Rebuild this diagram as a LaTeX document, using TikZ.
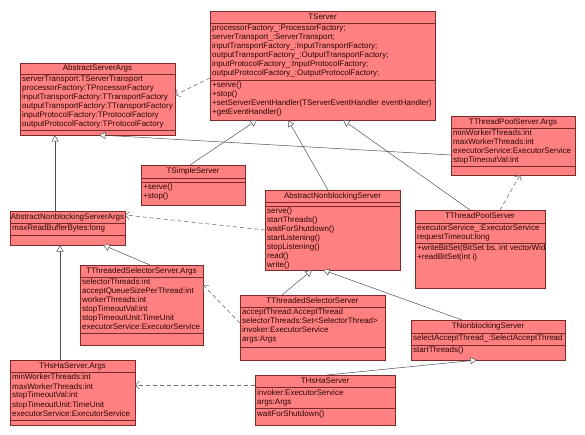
\documentclass[tikz,border=0pt]{standalone}
\usepackage{fontspec}
\setmainfont{Liberation Sans}
\usetikzlibrary{arrows.meta}
\definecolor{boxfill}{HTML}{FF8080}
\definecolor{boxdraw}{HTML}{7A2A2A}
\definecolor{boxtext}{HTML}{2A0505}
\definecolor{genline}{HTML}{505050}
\definecolor{depline}{HTML}{707070}
\tikzset{
  classbox/.style={draw=boxdraw, fill=boxfill, line width=0.7pt, inner sep=0pt, outer sep=0pt},
  divline/.style={draw=boxdraw, line width=0.7pt},
  titletext/.style={font=\fontsize{8}{9}\selectfont, text=boxtext, inner sep=0pt, text height=5.8pt, text depth=1.6pt},
  listtext/.style={font=\fontsize{8}{9}\selectfont, text=boxtext, inner sep=0pt, align=left, anchor=north west},
  genarrow/.style={draw=genline, line width=0.5pt, -{Triangle[open, length=6.5pt, width=7pt, fill=white]}},
  deparrow/.style={draw=depline, line width=0.6pt, dash pattern=on 4pt off 3pt, -{Straight Barb[length=4pt, width=8pt]}}
}
\newcommand{\umlbox}[8]{%
  \node[classbox, minimum width={#4-#2}, minimum height={#5-#3}, anchor=north west] (#1) at (#2,#3) {};
  \draw[divline] (#2,#6) -- (#4,#6);
  \draw[divline] (#2,#7) -- (#4,#7);
  \node[titletext] (#1-title) at ({(#2+#4)/2},{(#3+#6)/2}) {#8};
}
\begin{document}
\begin{tikzpicture}[x=1pt, y=-1pt]
\useasboundingbox (0,0) rectangle (585,435);
\fill[white] (0,0) rectangle (585,435);

% TServer
\umlbox{tserver}{210}{11}{435}{120}{23}{80}{TServer}
\node[listtext] (tserver-attrs) at (212,25) {processorFactory\_:ProcessorFactory;\\serverTransport\_:ServerTransport;\\inputTransportFactory\_:InputTransportFactory;\\outputTransportFactory\_:OutputTransportFactory;\\inputProtocolFactory\_:InputProtocolFactory;\\outputProtocolFactory\_:OutputProtocolFactory;};
\node[listtext] (tserver-ops) at (212,82) {+serve()\\+stop()\\+setServerEventHandler(TServerEventHandler eventHandler)\\+getEventHandler()};

% AbstractServerArgs
\umlbox{asargs}{20}{63}{175}{135}{74}{130}{AbstractServerArgs}
\node[listtext] (asargs-attrs) at (22,76) {serverTransport:TServerTransport\\processorFactory:TProcessorFactory\\inputTransportFactory:TTransportFactory\\outputTransportFactory:TTransportFactory\\inputProtocolFactory:TProtocolFactory\\outputProtocolFactory:TProtocolFactory};

% TThreadPoolServer.Args
\umlbox{tpargs}{451}{116}{575}{175}{128}{166}{TThreadPoolServer.Args}
\node[listtext] (tpargs-attrs) at (453,130) {minWorkerThreads:int\\maxWorkerThreads:int\\executorService:ExecutorService\\stopTimeoutVal:int};

% TSimpleServer
\umlbox{tsimple}{141}{165}{245}{205}{178}{182}{TSimpleServer}
\node[listtext] (tsimple-ops) at (143,184) {+serve()\\+stop()};

% AbstractNonblockingServer
\umlbox{ans}{265}{190}{400}{270}{202}{206}{AbstractNonblockingServer}
\node[listtext] (ans-ops) at (267,208) {serve()\\startThreads()\\waitForShutdown()\\startListening()\\stopListening()\\read()\\write()};

% AbstractNonblockingServerArgs
\umlbox{ansargs}{10}{211}{125}{245}{223}{235}{AbstractNonblockingServerArgs}
\node[listtext] (ansargs-attrs) at (12,225) {maxReadBufferBytes:long};

% TThreadPoolServer
\umlbox{tps}{415}{210}{545}{288}{223}{243}{TThreadPoolServer}
\node[listtext] (tps-attrs) at (417,225) {executorService\_:ExecutorService\\requestTimeout:long};
\begin{scope}
\clip (415,243) rectangle (544.5,288);
\node[listtext] (tps-ops) at (417,245) {+writeBitSet(BitSet bs, int vectorWid\\+readBitSet(int i)};
\end{scope}

% TThreadedSelectorServer.Args
\umlbox{tsargs}{80}{265}{203}{345}{277}{333}{TThreadedSelectorServer.Args}
\node[listtext] (tsargs-attrs) at (82,279) {selectorThreads:int\\acceptQueueSizePerThread:int\\workerThreads:int\\stopTimeoutVal:int\\stopTimeoutUnit:TimeUnit\\executorService:ExecutorService};

% TThreadedSelectorServer
\umlbox{tss}{240}{295}{385}{360}{307}{347}{TThreadedSelectorServer}
\node[listtext] (tss-attrs) at (242,309) {acceptThread:AcceptThread\\selectorThreads:Set<SelectorThread>\\invoker:ExecutorService\\args:Args};

% TNonblockingServer
\umlbox{tnb}{411}{320}{565}{360}{333}{345}{TNonblockingServer}
\node[listtext] (tnb-attrs) at (413,335) {selectAcceptThread\_:SelectAcceptThread};
\node[listtext] (tnb-ops) at (413,347) {startThreads()};

% THsHaServer.Args
\umlbox{hhargs}{10}{360}{135}{425}{372}{420}{THsHaServer.Args}
\node[listtext] (hhargs-attrs) at (12,374) {minWorkerThreads:int\\maxWorkerThreads:int\\stopTimeoutVal:int\\stopTimeoutUnit:TimeUnit\\executorService:ExecutorService};

% THsHaServer
\umlbox{hhs}{255}{375}{395}{425}{387}{408}{THsHaServer}
\node[listtext] (hhs-attrs) at (257,389) {invoker:ExecutorService\\args:Args};
\node[listtext] (hhs-ops) at (257,410) {waitForShutdown()};

% generalizations
\draw[genarrow] ([xshift=49pt]tsimple.north west) -- ([xshift=47pt]tserver.south west);
\draw[genarrow] ([xshift=63pt]ans.north west) -- ([xshift=78pt]tserver.south west);
\draw[genarrow] ([xshift=55pt]tps.north west) -- ([xshift=133pt]tserver.south west);
\draw[genarrow] ([xshift=45pt]ansargs.north west) -- ([xshift=35pt]asargs.south west);
\draw[genarrow] ([yshift=-39pt]tpargs.north west) -- ([xshift=79pt]asargs.south west);
\draw[genarrow] ([xshift=70pt]tsargs.north west) -- ([xshift=93pt]ansargs.south west);
\draw[genarrow] ([xshift=50pt]hhargs.north west) -- ([xshift=50pt]ansargs.south west);
\draw[genarrow] ([xshift=42pt]tss.north west) -- ([xshift=47pt]ans.south west);
\draw[genarrow] ([xshift=51pt]tnb.north west) -- ([xshift=58pt]ans.south west);
\draw[genarrow] ([xshift=72pt]hhs.north west) -- ([xshift=66pt]tnb.south west);

% dependencies
\draw[deparrow] ([yshift=-67pt]tserver.north west) -- ([yshift=-32pt]asargs.north east);
\draw[deparrow] ([xshift=85pt]tps.north west) -- ([xshift=69pt]tpargs.south west);
\draw[deparrow] ([yshift=-40pt]ans.north west) -- ([yshift=-4pt]ansargs.north east);
\draw[deparrow] ([yshift=-28pt]tss.north west) -- ([yshift=-20pt]tsargs.north east);
\draw[deparrow] ([yshift=-10pt]hhs.north west) -- ([yshift=-25pt]hhargs.north east);
\end{tikzpicture}
\end{document}
